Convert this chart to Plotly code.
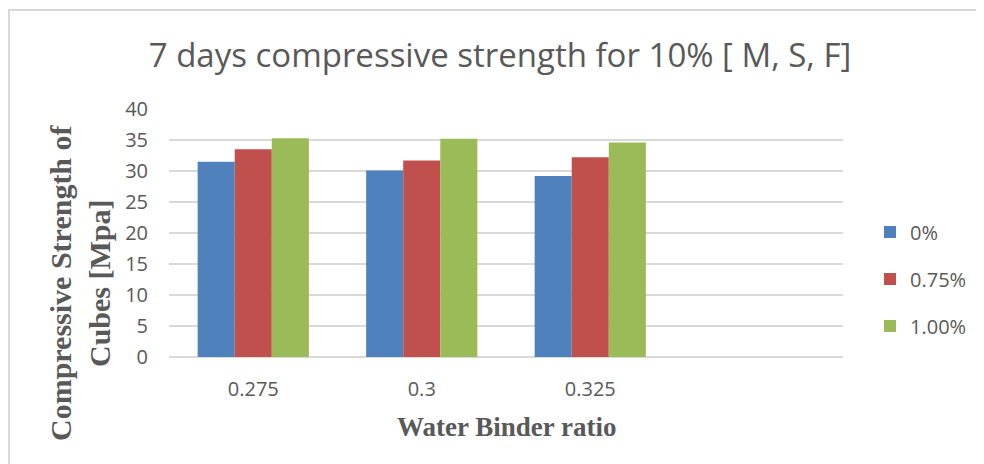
import plotly.graph_objects as go

categories = ["0.275", "0.3", "0.325"]
series_names = ["0%", "0.75%", "1.00%"]
vals_0 = [31.5, 30.1, 29.2]
vals_075 = [33.5, 31.7, 32.2]
vals_100 = [35.3, 35.2, 34.6]
colors = ["#4f81bd", "#c0504d", "#9bbb59"]
y_ticks = [0, 5, 10, 15, 20, 25, 30, 35, 40]

OFF = 8  # page body margin
W, H = 984 - OFF, 464 - OFF
L, R, T, B = 161, 141, 101, 107
pw, ph = W - L - R, H - T - B

def px(x):  # screenshot x -> paper
    return (x - OFF - L) / pw

def py(y):  # screenshot y -> paper
    return (H - B - (y - OFF)) / ph

fig = go.Figure()
for name, vals, c in zip(series_names, [vals_0, vals_075, vals_100], colors):
    fig.add_trace(go.Bar(x=categories, y=vals, name=name, marker_color=c,
                         marker_line_width=0, legendgroup=name))

tick_font = dict(family="Open Sans, sans-serif", size=20, color="#595959")
fig.update_layout(
    width=W, height=H,
    margin=dict(l=L, r=R, t=T, b=B),
    plot_bgcolor="white", paper_bgcolor="white",
    barmode="group", bargap=0.34, bargroupgap=0,
    title=dict(text="7 days compressive strength for 10% [ M, S, F]",
               x=px(500), xref="paper", xanchor="center",
               y=1 - (55 - OFF) / H, yref="container", yanchor="middle",
               font=dict(family="Open Sans, sans-serif", size=33, color="#595959")),
    xaxis=dict(type="category", categoryarray=categories, range=[-0.5, 3.5],
               showgrid=False, showline=False, ticks="", tickfont=tick_font,
               ticklabelstandoff=18),
    yaxis=dict(range=[0, 40], tickvals=y_ticks, showgrid=True, gridcolor="#d9d9d9",
               gridwidth=1.5, zeroline=True, zerolinecolor="#d9d9d9", zerolinewidth=1.5,
               showline=False, ticks="", tickfont=tick_font, ticklabelstandoff=20),
    legend=dict(x=px(870), y=py(279), xanchor="left", yanchor="middle",
                font=tick_font, tracegroupgap=18, itemwidth=30),
    showlegend=True,
)

fig.add_annotation(text="<b>Compressive Strength of<br>Cubes [Mpa]</b>", textangle=-90,
                   x=px(80), y=py(283), xref="paper", yref="paper",
                   showarrow=False, xanchor="center", yanchor="middle",
                   font=dict(family="Liberation Serif, Times New Roman, serif", size=30,
                             color="#595959"))
fig.add_annotation(text="<b>Water Binder ratio</b>",
                   x=px(506), y=py(427), xref="paper", yref="paper",
                   showarrow=False, xanchor="center", yanchor="middle",
                   font=dict(family="Liberation Serif, Times New Roman, serif", size=27,
                             color="#595959"))

# outer chart border (top and left edges visible)
fig.add_shape(type="line", xref="paper", yref="paper", x0=px(8), x1=px(1000),
              y0=py(10), y1=py(10), line=dict(color="#d9d9d9", width=2))
fig.add_shape(type="line", xref="paper", yref="paper", x0=px(9), x1=px(9),
              y0=py(10), y1=py(480), line=dict(color="#d9d9d9", width=2))

fig.write_html("out.html")
